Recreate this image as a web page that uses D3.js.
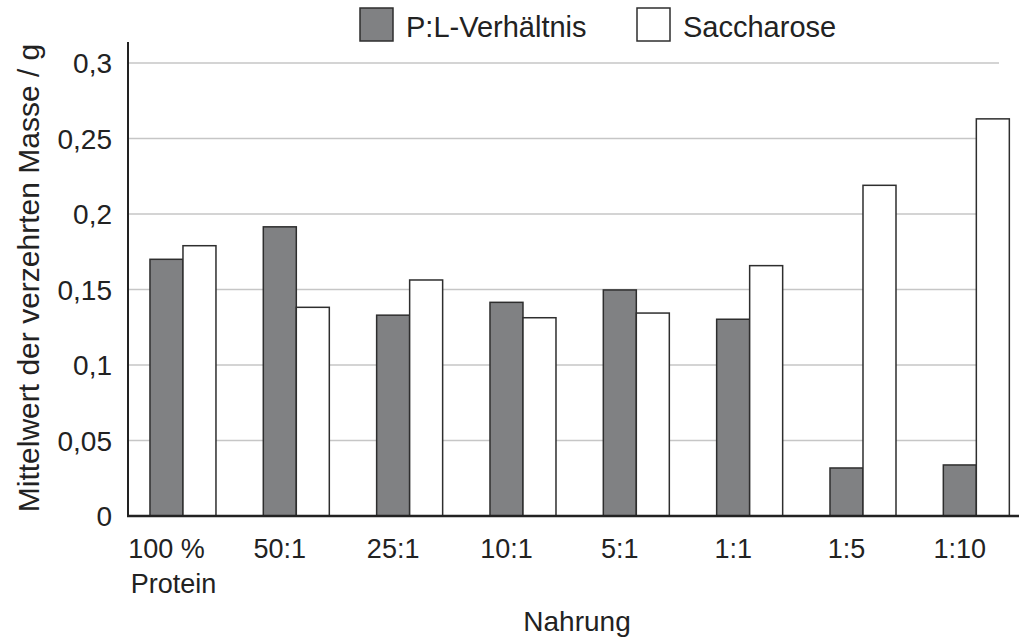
<!DOCTYPE html>
<html>
<head>
<meta charset="utf-8">
<script src="https://cdn.jsdelivr.net/npm/d3@7"></script>
<style>
  body { margin: 0; background: #fff; }
  text { font-family: "Liberation Sans", Arial, sans-serif; fill: #222; }
</style>
</head>
<body>
<div id="chart"></div>
<script>
// Data
var categories = ["100 %\nProtein", "50:1", "25:1", "10:1", "5:1", "1:1", "1:5", "1:10"];
var plRatio = [0.170, 0.1915, 0.133, 0.1415, 0.1497, 0.1303, 0.0318, 0.0338];
var saccharose = [0.179, 0.1382, 0.1563, 0.1313, 0.1344, 0.1658, 0.219, 0.263];
var seriesNames = ["P:L-Verhältnis", "Saccharose"];
var yTicks = [0, 0.05, 0.1, 0.15, 0.2, 0.25, 0.3];

var W = 1019, H = 641;
var svg = d3.select("#chart").append("svg")
  .attr("width", W).attr("height", H);

var y = d3.scaleLinear().domain([0, 0.3]).range([516, 63]);
var x = d3.scaleBand().domain(categories)
  .range([126.3, 1033]).paddingInner(0.4176).paddingOuter(0.2088);
var xs = d3.scaleBand().domain([0, 1]).range([0, x.bandwidth()]);

var colors = ["#808183", "#ffffff"];

// grid lines
svg.append("g").selectAll("line")
  .data(yTicks.filter(d => d > 0))
  .enter().append("line")
  .attr("x1", 128).attr("x2", 999)
  .attr("y1", d => y(d)).attr("y2", d => y(d))
  .attr("stroke", "#c6c6c6").attr("stroke-width", 1.5);

// bars
var rows = categories.map((c, i) => ({cat: c, vals: [plRatio[i], saccharose[i]]}));
var groups = svg.append("g").selectAll("g")
  .data(rows).enter().append("g")
  .attr("transform", d => "translate(" + x(d.cat) + ",0)");
groups.selectAll("rect")
  .data(d => d.vals.map((v, k) => ({k: k, v: v})))
  .enter().append("rect")
  .attr("x", d => xs(d.k))
  .attr("width", xs.bandwidth())
  .attr("y", d => y(d.v))
  .attr("height", d => y(0) - y(d.v))
  .attr("fill", d => colors[d.k])
  .attr("stroke", "#2e2e2e").attr("stroke-width", 1.5);

// axes lines
svg.append("line").attr("x1", 128).attr("x2", 128).attr("y1", 42).attr("y2", 517)
  .attr("stroke", "#222").attr("stroke-width", 2);
svg.append("line").attr("x1", 127).attr("x2", W).attr("y1", y(0)).attr("y2", y(0))
  .attr("stroke", "#222").attr("stroke-width", 2.5);

// y tick labels
svg.append("g").selectAll("text")
  .data(yTicks).enter().append("text")
  .attr("x", 112).attr("y", d => y(d) + 10)
  .attr("text-anchor", "end")
  .style("font-size", "28px")
  .text(d => String(d).replace(".", ","));

// x tick labels
svg.append("g").selectAll("text")
  .data(categories).enter().append("text")
  .attr("text-anchor", "middle")
  .style("font-size", "27px")
  .each(function(d) {
    var t = d3.select(this);
    var cx = x(d) + xs(0) + xs.bandwidth() / 2;
    d.split("\n").forEach(function(line, i) {
      t.append("tspan").attr("x", cx + (i ? 7 : 0)).attr("y", 558 + i * 35).text(line);
    });
  });

// axis titles
svg.append("text").attr("x", 577).attr("y", 631)
  .attr("text-anchor", "middle").style("font-size", "28px").text("Nahrung");
svg.append("text")
  .attr("transform", "translate(39,278) rotate(-90)")
  .attr("text-anchor", "middle").style("font-size", "30px")
  .text("Mittelwert der verzehrten Masse / g");

// legend
var legX = [360, 637];
var leg = svg.append("g").selectAll("g")
  .data(seriesNames).enter().append("g")
  .attr("transform", (d, i) => "translate(" + legX[i] + ",8)");
leg.append("rect").attr("width", 33).attr("height", 33)
  .attr("fill", (d, i) => colors[i])
  .attr("stroke", "#2e2e2e").attr("stroke-width", 1.5);
leg.append("text").attr("x", 46).attr("y", 29)
  .style("font-size", "29px").text(d => d);
</script>
</body>
</html>
